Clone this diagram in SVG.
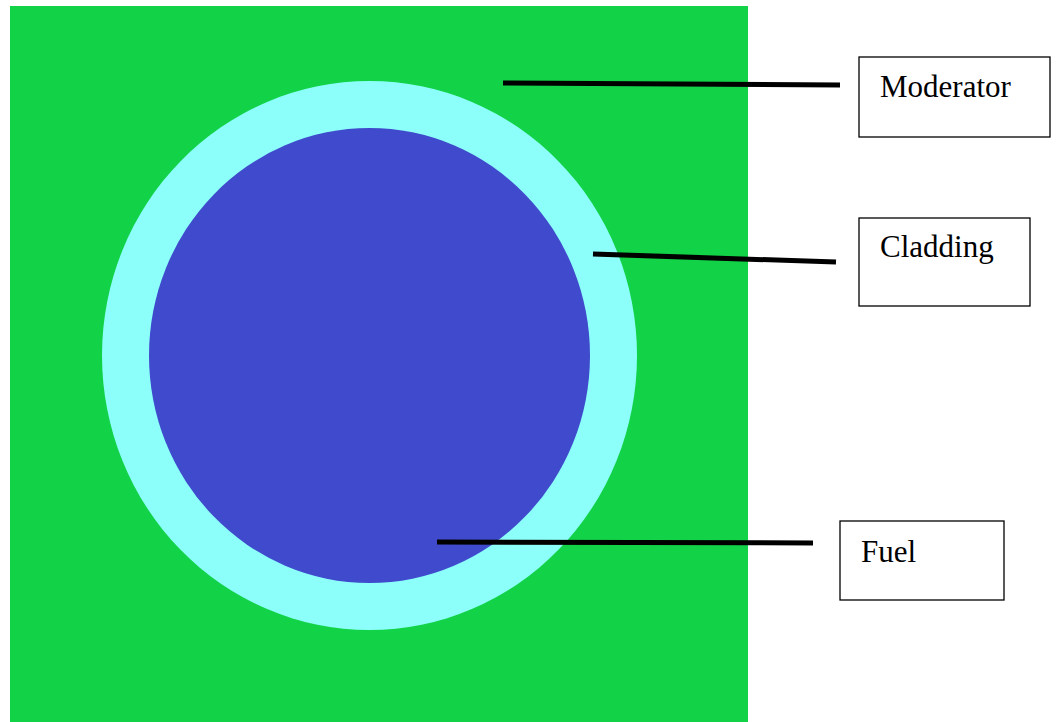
<svg xmlns="http://www.w3.org/2000/svg" width="1057" height="722" viewBox="0 0 1057 722">
<style>
.box{fill:#fff;stroke:#000;stroke-width:1.3}
.lbl{font-family:"Liberation Serif",serif;font-size:31px;fill:#000}
.ln{stroke:#000;stroke-width:5;fill:none}
</style>
<rect width="1057" height="722" fill="#fff"/>
<g id="moderator-region"><rect x="10" y="6" width="738" height="716" fill="#12d247"/></g>
<g id="cladding-region"><ellipse cx="369.5" cy="355.5" rx="267.5" ry="274.5" fill="#8cfffa"/></g>
<g id="fuel-region"><ellipse cx="369.5" cy="355.5" rx="220.5" ry="227.5" fill="#3f4bcc"/></g>
<g id="connectors">
<line class="ln" x1="503" y1="83" x2="840" y2="85"/>
<line class="ln" x1="593" y1="254" x2="836" y2="262"/>
<line class="ln" x1="437" y1="542" x2="813" y2="543"/>
</g>
<g id="moderator-label"><rect class="box" x="859" y="57" width="191" height="80"/><text class="lbl" x="880" y="97">Moderator</text></g>
<g id="cladding-label"><rect class="box" x="859" y="218" width="171" height="88"/><text class="lbl" x="880" y="257">Cladding</text></g>
<g id="fuel-label"><rect class="box" x="840" y="521" width="164" height="79"/><text class="lbl" x="861" y="562">Fuel</text></g>
</svg>
